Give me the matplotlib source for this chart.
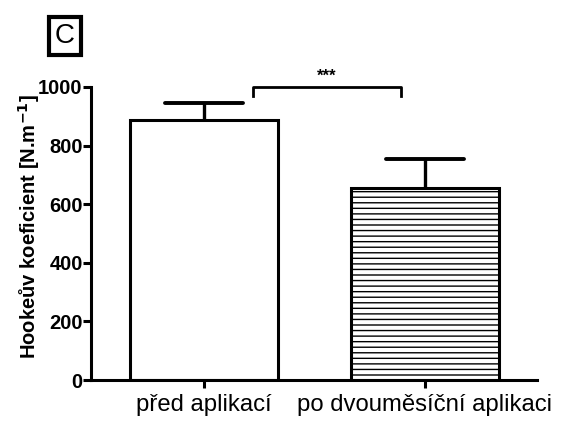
import matplotlib
matplotlib.use("Agg")
import matplotlib.pyplot as plt

plt.rcParams['font.family'] = ['Liberation Sans', 'DejaVu Sans']
plt.rcParams['hatch.linewidth'] = 1.0

categories = ["před aplikací", "po dvouměsíční aplikaci"]
means = [886, 654]
errors = [60, 99]
yticks = [0, 200, 400, 600, 800, 1000]
signif = "***"

fig = plt.figure(figsize=(5.76, 4.21), dpi=100)
ax = fig.add_axes([91/576, 1-380/421, (537-91)/576, (380-87)/421])

x = list(range(len(categories)))
hatches = ["", "---"]
cap_half = 0.175
for i in x:
    ax.bar(i, means[i], width=0.67, color="white", edgecolor="black",
           linewidth=2.2, hatch=hatches[i], zorder=2)
    top = means[i] + errors[i]
    ax.vlines(i, means[i], top, colors="black", linewidth=2.4, zorder=3)
    ax.hlines(top, i - cap_half, i + cap_half, colors="black",
              linewidth=2.8, zorder=3, capstyle="round")

ax.set_xlim(-0.511, 0.507 + 1)
ax.set_ylim(0, 1000)
ax.set_yticks(yticks)
ax.set_yticklabels([str(v) for v in yticks], fontsize=14.5, fontweight="bold")
ax.set_xticks(x)
ax.set_xticklabels(categories, fontsize=17.2)
for s in ["top", "right"]:
    ax.spines[s].set_visible(False)
for s in ["left", "bottom"]:
    ax.spines[s].set_linewidth(2.2)
ax.tick_params(axis="both", width=2.2, length=6, direction="out", pad=0)
ax.tick_params(axis="x", pad=4)
ax.set_ylabel("Hookeův koeficient [N.m$^{\\mathbf{-1}}$]", fontsize=14.5,
              fontweight="bold", labelpad=1)
ax.yaxis.set_label_coords(-0.11, 0.525)

# significance bracket
x1, x2 = 0.22, 0.89
yb = 1000
ax.plot([x1, x1, x2, x2], [yb - 30, yb, yb, yb - 30], color="black",
        linewidth=2.0, clip_on=False, zorder=4)
ax.text((x1 + x2) / 2, yb + 12, signif, ha="center", va="bottom",
        fontsize=12, fontweight="bold")

# panel label
fig.text(65/576, 1-36/421, "C", ha="center", va="center", fontsize=20,
         bbox=dict(boxstyle="square,pad=0.22", facecolor="white",
                   edgecolor="black", linewidth=3))

fig.savefig("out.png", dpi=100)
